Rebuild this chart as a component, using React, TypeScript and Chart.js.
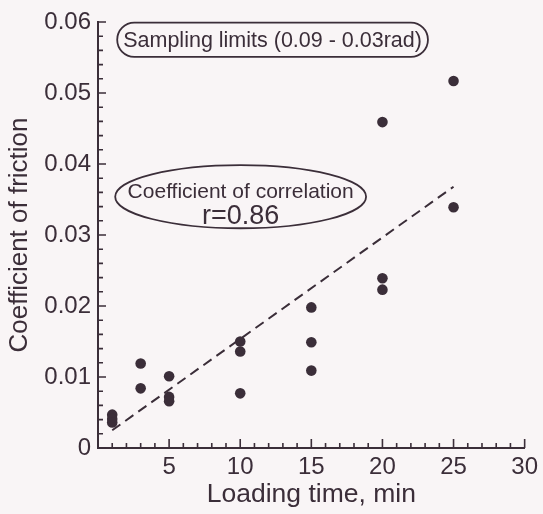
import React, { useEffect, useRef } from "react";
import { Chart, registerables } from "chart.js";

Chart.register(...registerables);

// Data
const X_POINTS = [1, 1, 1, 3, 3, 5, 5, 5, 10, 10, 10, 15, 15, 15, 20, 20, 20, 25, 25];
const Y_POINTS = [0.0047, 0.0041, 0.0036, 0.0119, 0.0084, 0.0101, 0.0072, 0.0066, 0.015, 0.0136, 0.0077, 0.0198, 0.0149, 0.0109, 0.0459, 0.0239, 0.0223, 0.0517, 0.0339];
const LINE_X = [1, 25];
const LINE_Y = [0.0025, 0.0368];

const X_TITLE = "Loading time, min";
const Y_TITLE = "Coefficient of friction";
const SAMPLING_TEXT = "Sampling limits (0.09 - 0.03rad)";
const CORR_LINES = ["Coefficient of correlation", "r=0.86"];

// annotation geometry in data units
const SAMPLING_BOX = { x0: 1.35, x1: 23.2, y0: 0.0551, y1: 0.0599 };
const CORR_ELLIPSE = { cx: 10.03, cy: 0.0354, rx: 8.82, ry: 0.00445 };
const CORR_TEXT_Y = [0.036, 0.0326];

const INK = "#3b2e39";
const BG = "#f9f5f6";
const FONT = '"Liberation Sans", Arial, sans-serif';

const bgPlugin = {
  id: "bg",
  beforeDraw(chart: any) {
    const ctx = chart.ctx;
    ctx.save();
    ctx.fillStyle = BG;
    ctx.fillRect(0, 0, chart.width, chart.height);
    ctx.restore();
  },
};

const ticksPlugin = {
  id: "innerTicks",
  afterDraw(chart: any) {
    const ctx = chart.ctx;
    const xs = chart.scales.x;
    const ys = chart.scales.y;
    const x0 = xs.getPixelForValue(0);
    const y0 = ys.getPixelForValue(0);
    ctx.save();
    ctx.strokeStyle = INK;
    ctx.lineWidth = 1.6;
    ctx.beginPath();
    for (let i = 0; i <= 30; i++) {
      const px = xs.getPixelForValue(i);
      const len = i % 5 === 0 ? 9 : 5;
      ctx.moveTo(px, y0);
      ctx.lineTo(px, y0 - len);
    }
    for (let i = 0; i <= 30; i++) {
      const v = i * 0.002;
      const py = ys.getPixelForValue(v);
      const len = i % 5 === 0 ? 8 : 5;
      ctx.moveTo(x0, py);
      ctx.lineTo(x0 + len, py);
    }
    ctx.stroke();
    ctx.restore();
  },
};

const annotPlugin = {
  id: "annots",
  afterDatasetsDraw(chart: any) {
    const ctx = chart.ctx;
    const xs = chart.scales.x;
    const ys = chart.scales.y;
    ctx.save();
    ctx.strokeStyle = INK;
    ctx.fillStyle = INK;
    ctx.lineWidth = 1.8;
    // stadium
    const l = xs.getPixelForValue(SAMPLING_BOX.x0);
    const r = xs.getPixelForValue(SAMPLING_BOX.x1);
    const t = ys.getPixelForValue(SAMPLING_BOX.y1);
    const b = ys.getPixelForValue(SAMPLING_BOX.y0);
    const rad = (b - t) / 2;
    ctx.beginPath();
    ctx.moveTo(l + rad, t);
    ctx.lineTo(r - rad, t);
    ctx.arc(r - rad, t + rad, rad, -Math.PI / 2, Math.PI / 2);
    ctx.lineTo(l + rad, b);
    ctx.arc(l + rad, t + rad, rad, Math.PI / 2, (3 * Math.PI) / 2);
    ctx.closePath();
    ctx.stroke();
    ctx.font = `21.5px ${FONT}`;
    ctx.textAlign = "center";
    ctx.textBaseline = "middle";
    ctx.fillText(SAMPLING_TEXT, (l + r) / 2, (t + b) / 2 + 1);
    // ellipse
    const cx = xs.getPixelForValue(CORR_ELLIPSE.cx);
    const cy = ys.getPixelForValue(CORR_ELLIPSE.cy);
    const rx = xs.getPixelForValue(CORR_ELLIPSE.cx + CORR_ELLIPSE.rx) - cx;
    const ry = cy - ys.getPixelForValue(CORR_ELLIPSE.cy + CORR_ELLIPSE.ry);
    ctx.beginPath();
    ctx.ellipse(cx, cy, rx, ry, 0, 0, Math.PI * 2);
    ctx.stroke();
    CORR_LINES.forEach((s, i) => {
      ctx.font = i === 0 ? `21px ${FONT}` : `27px ${FONT}`;
      ctx.fillText(s, cx, ys.getPixelForValue(CORR_TEXT_Y[i]));
    });
    ctx.restore();
  },
};

export default function App() {
  const ref = useRef<HTMLCanvasElement>(null);
  useEffect(() => {
    if (!ref.current) return;
    const points = X_POINTS.map((x, i) => ({ x, y: Y_POINTS[i] }));
    const line = LINE_X.map((x, i) => ({ x, y: LINE_Y[i] }));
    const chart = new Chart(ref.current, {
      type: "scatter",
      data: {
        datasets: [
          {
            type: "line",
            data: line,
            borderColor: INK,
            borderWidth: 2,
            borderDash: [10, 6],
            pointRadius: 0,
            fill: false,
          } as any,
          {
            data: points,
            backgroundColor: INK,
            borderColor: INK,
            pointRadius: 5.3,
            borderWidth: 0,
          },
        ],
      },
      options: {
        animation: false,
        responsive: false,
        layout: { padding: { top: 22, right: 15, left: 0, bottom: 0 } },
        plugins: { legend: { display: false }, tooltip: { enabled: false } },
        scales: {
          x: {
            type: "linear",
            min: 0,
            max: 30,
            grid: { display: false, drawTicks: false },
            border: { display: true, color: INK, width: 2 },
            ticks: {
              stepSize: 5,
              color: INK,
              padding: 5,
              font: { family: FONT, size: 24 },
              callback: (v: any) => (v === 0 ? "" : String(v)),
            },
            title: {
              display: true,
              text: X_TITLE,
              color: INK,
              font: { family: FONT, size: 26.5 },
              padding: { top: 0, bottom: 3 },
            },
            afterFit: (s: any) => {
              s.height = 66;
            },
          },
          y: {
            type: "linear",
            min: 0,
            max: 0.06,
            grid: { display: false, drawTicks: false },
            border: { display: true, color: INK, width: 2 },
            ticks: {
              stepSize: 0.01,
              color: INK,
              padding: 7,
              font: { family: FONT, size: 24 },
              callback: (v: any) => (v === 0 ? "0" : Number(v).toFixed(2)),
            },
            title: {
              display: true,
              text: Y_TITLE,
              color: INK,
              font: { family: FONT, size: 26 },
              padding: { top: 4, bottom: 0 },
            },
            afterFit: (s: any) => {
              s.width = 98;
            },
          },
        },
      },
      plugins: [bgPlugin, ticksPlugin, annotPlugin],
    });
    return () => chart.destroy();
  }, []);
  return (
    <canvas
      ref={ref}
      width={543}
      height={514}
      style={{ position: "fixed", left: 0, top: 0, display: "block" }}
    />
  );
}
